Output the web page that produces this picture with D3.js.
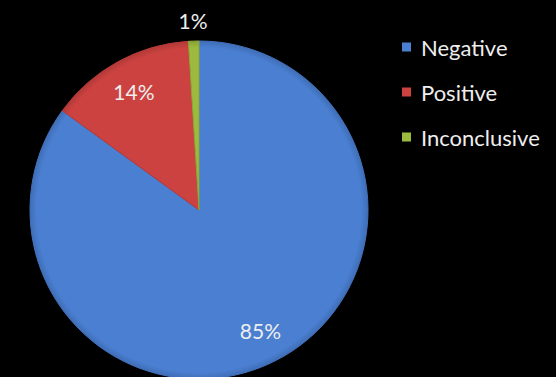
<!DOCTYPE html>
<html>
<head>
<meta charset="utf-8">
<script src="https://cdn.jsdelivr.net/npm/d3@7"></script>
<style>
  html, body { margin: 0; padding: 0; background: #000; }
  svg { display: block; }
</style>
</head>
<body>
<svg id="chart" width="556" height="377"></svg>
<script>
"use strict";

const categories = ['Negative', 'Positive', 'Inconclusive'];
const values = [85, 14, 1];
const colors = ['#4a7fd2', '#cc4240', '#9cbb3e'];

const cx = 199;
const cy = 210;
const radius = 169;
const font = 'Lato, "Open Sans", sans-serif';

const svg = d3.select('#chart');
const defs = svg.append('defs');

// soft bevel on each slice (gradient lives in the pie group's coords)
categories.forEach(function (c, i) {
    const g = defs.append('radialGradient')
        .attr('id', 'grad' + i)
        .attr('gradientUnits', 'userSpaceOnUse')
        .attr('cx', 0).attr('cy', 0).attr('r', radius);
    const base = d3.color(colors[i]);
    g.append('stop').attr('offset', '0%').attr('stop-color', base.formatHex());
    g.append('stop').attr('offset', '96%').attr('stop-color', base.formatHex());
    g.append('stop').attr('offset', '100%').attr('stop-color', base.darker(0.4).formatHex());
});

const data = categories.map(function (c, i) {
    return { name: c, value: values[i], idx: i };
});

const pie = d3.pie()
    .value(function (d) { return d.value; })
    .sort(null);

const arc = d3.arc().innerRadius(0).outerRadius(radius);
const labelArc = d3.arc().innerRadius(radius * 0.8).outerRadius(radius * 0.8);
const outerArc = d3.arc().innerRadius(radius * 1.12).outerRadius(radius * 1.12);

const pieG = svg.append('g')
    .attr('transform', 'translate(' + cx + ',' + cy + ')');

const arcs = pie(data);

pieG.selectAll('.slice')
    .data(arcs)
    .enter()
    .append('path')
    .classed('slice', true)
    .attr('d', arc)
    .attr('fill', function (d) { return 'url(#grad' + d.data.idx + ')'; })
    .attr('stroke', function (d) { return d3.color(colors[d.data.idx]).darker(0.3); })
    .attr('stroke-width', 1);

pieG.selectAll('.label')
    .data(arcs)
    .enter()
    .append('text')
    .classed('label', true)
    .attr('transform', function (d) {
        // tiny slice gets its label outside the pie
        const p = d.data.value < 5 ? outerArc.centroid(d) : labelArc.centroid(d);
        return 'translate(' + p[0] + ',' + p[1] + ')';
    })
    .attr('text-anchor', 'middle')
    .attr('dominant-baseline', 'central')
    .attr('fill', '#eeeeee')
    .style('font-family', font)
    .style('font-size', '21px')
    .text(function (d) { return d.data.value + '%'; });

// legend
const legendY = d3.scalePoint()
    .domain(categories)
    .range([47, 137]);

const legend = svg.append('g').attr('transform', 'translate(402,0)');

const items = legend.selectAll('.item')
    .data(categories)
    .enter()
    .append('g')
    .classed('item', true)
    .attr('transform', function (d) { return 'translate(0,' + legendY(d) + ')'; });

items.append('rect')
    .attr('x', 0).attr('y', -4.5)
    .attr('width', 9).attr('height', 9)
    .attr('fill', function (d, i) { return colors[i]; });

items.append('text')
    .attr('x', 19)
    .attr('y', 0)
    .attr('dominant-baseline', 'central')
    .attr('fill', '#eeeeee')
    .style('font-family', font)
    .style('font-size', '22px')
    .text(function (d) { return d; });
</script>
</body>
</html>
